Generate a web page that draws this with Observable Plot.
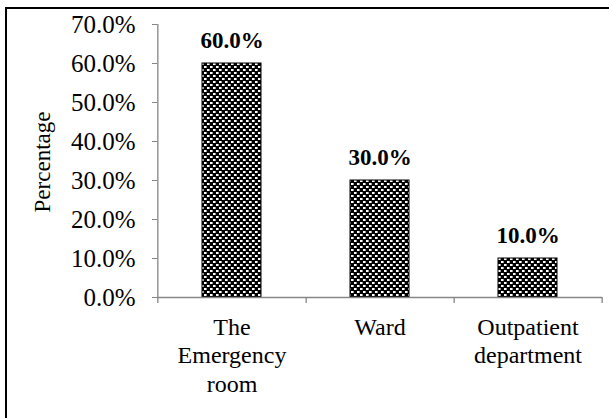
<!DOCTYPE html>
<html>
<head>
<meta charset="utf-8">
<script src="https://cdn.jsdelivr.net/npm/d3@7"></script>
<script src="https://cdn.jsdelivr.net/npm/@observablehq/plot@0.6"></script>
<style>
  html, body { margin: 0; padding: 0; background: #fff; }
  #wrap { position: relative; width: 609px; height: 418px; overflow: hidden; background: #fff; }
  #border { position: absolute; left: 5px; top: 7px; width: 800px; height: 800px; border: 2px solid #000; box-sizing: border-box; }
  #chart { position: absolute; left: 0; top: 0; }
  #chart svg text { font-family: 'Liberation Serif', 'Times New Roman', serif; }
</style>
</head>
<body>
<div id="wrap"><div id="border"></div><div id="chart"></div></div>
<script>
const categories = ["The\nEmergency\nroom", "Ward", "Outpatient\ndepartment"];
const percentages = [60, 30, 10];
const yTicks = [0, 10, 20, 30, 40, 50, 60, 70];
const yLabel = "Percentage";

const data = categories.map((c, i) => ({category: c, value: percentages[i]}));

const W = 609, H = 418, mL = 157, mR = 7, mT = 24, mB = 121;
const step = (W - mL - mR) / categories.length;
const frameH = H - mT - mB;
const axisGray = "#868686";
const font = "'Liberation Serif', 'Times New Roman', serif";

const chart = Plot.plot({
  width: W, height: H,
  marginLeft: mL, marginRight: mR, marginTop: mT, marginBottom: mB,
  style: {fontFamily: font, background: "transparent", color: "#000", overflow: "visible"},
  x: {domain: categories, paddingInner: 0.6, paddingOuter: 0.3, axis: null},
  y: {domain: [0, 70], axis: null},
  marks: [
    Plot.barY(data, {x: "category", y: "value", fill: "url(#pat)", stroke: "#000", strokeWidth: 1}),
    Plot.ruleY([0], {stroke: axisGray, strokeWidth: 1.3}),
    Plot.ruleX([categories[0]], {dx: -step / 2, insetBottom: -6, stroke: axisGray, strokeWidth: 1.3}),
    Plot.ruleX(categories, {dx: step / 2, insetTop: frameH, insetBottom: -6, stroke: axisGray, strokeWidth: 1.3}),
    Plot.axisY({ticks: yTicks, tickFormat: d => d.toFixed(1) + "%", tickSize: 5, tickPadding: 17,
      fontSize: 25, fontFamily: font, stroke: axisGray, fill: "#000", label: null}),
    Plot.text(categories, {x: d => d, text: d => d, frameAnchor: "bottom", lineAnchor: "top", dy: 17,
      fontFamily: font, fontSize: 24, lineHeight: 1.19, fill: "#000"}),
    Plot.text(data, {x: "category", y: "value", text: d => d.value.toFixed(1) + "%",
      fontFamily: font, fontWeight: "bold", fontSize: 23, fill: "#000", lineAnchor: "bottom", dy: -16}),
    Plot.text([yLabel], {frameAnchor: "left", textAnchor: "middle", dx: -115, dy: 1, rotate: -90,
      fontFamily: font, fontSize: 23, fill: "#000"})
  ]
});

const ns = "http://www.w3.org/2000/svg";
const defs = document.createElementNS(ns, "defs");
defs.innerHTML = `
<pattern id="pat" width="6" height="6" patternUnits="userSpaceOnUse">
  <rect width="6" height="6" fill="#000"/>
  <rect x="0" y="0" width="2" height="2" fill="#fff"/>
  <rect x="3" y="3" width="2" height="2" fill="#fff"/>
  <rect x="2" y="0" width="1" height="2" fill="#9a9a9a"/>
  <rect x="5" y="3" width="1" height="2" fill="#9a9a9a"/>
</pattern>`;
chart.insertBefore(defs, chart.firstChild);
document.getElementById("chart").appendChild(chart);
</script>
</body>
</html>
